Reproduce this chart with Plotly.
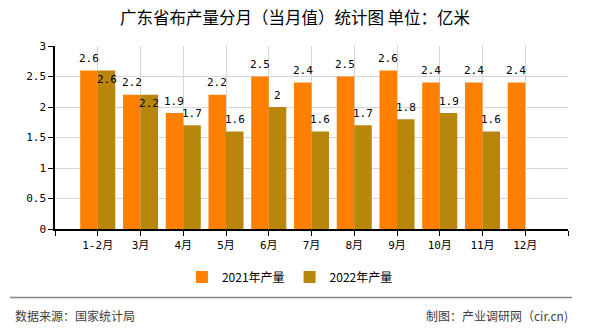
import plotly.graph_objects as go

categories = ["1-2月", "3月", "4月", "5月", "6月", "7月", "8月", "9月", "10月", "11月", "12月"]
values_2021 = [2.6, 2.2, 1.9, 2.2, 2.5, 2.4, 2.5, 2.6, 2.4, 2.4, 2.4]
values_2022 = [2.6, 2.2, 1.7, 1.6, 2.0, 1.6, 1.7, 1.8, 1.9, 1.6, None]
series_names = ["2021年产量", "2022年产量"]
y_ticks = [0, 0.5, 1, 1.5, 2, 2.5, 3]

COLOR_2021 = "#FF8000"
COLOR_2022 = "#B8860B"
BARGAP = 0.18
MONO = "DejaVu Sans Mono, Noto Sans CJK SC"
CJK = "Noto Sans CJK SC"

xs = list(range(len(categories)))

fig = go.Figure()
fig.add_trace(go.Bar(x=xs, y=values_2021, name=series_names[0],
                     marker=dict(color=COLOR_2021, line=dict(width=0))))
fig.add_trace(go.Bar(x=xs, y=values_2022, name=series_names[1],
                     marker=dict(color=COLOR_2022, line=dict(width=0))))

# data labels
off = (1 - BARGAP) / 4
annotations = []
for i, (a, b) in enumerate(zip(values_2021, values_2022)):
    if a is not None:
        annotations.append(dict(x=i - off, y=a, xref="x", yref="y", text=str(a),
                                showarrow=False, yanchor="middle", yshift=12,
                                font=dict(family=MONO, size=11, color="#000")))
    if b is not None:
        clash = a is not None and abs(a - b) < 0.05
        annotations.append(dict(x=i + off, y=b, xref="x", yref="y",
                                text=("%g" % b),
                                showarrow=False, yanchor="middle",
                                yshift=-9 if clash else 12,
                                font=dict(family=MONO, size=11, color="#000")))

# footer
annotations.append(dict(x=-0.082, y=-0.475, xref="paper", yref="paper",
                        text="数据来源：国家统计局", showarrow=False,
                        xanchor="left", yanchor="middle",
                        font=dict(family=CJK, size=12, color="#404040")))
annotations.append(dict(x=1.004, y=-0.475, xref="paper", yref="paper",
                        text="制图：产业调研网（cir.cn)", showarrow=False,
                        xanchor="right", yanchor="middle",
                        font=dict(family=CJK, size=12, color="#404040")))

fig.update_layout(
    width=590, height=330,
    margin=dict(l=55, r=22, t=46, b=101),
    paper_bgcolor="white", plot_bgcolor="white",
    barmode="group", bargap=BARGAP, bargroupgap=0,
    title=dict(text="广东省布产量分月（当月值）统计图 单位：亿米",
               x=0.5, xref="container", xanchor="center",
               y=1 - 18 / 330, yref="container", yanchor="middle",
               font=dict(family=CJK, size=16.5, color="#000")),
    showlegend=True,
    legend=dict(orientation="h", x=0.458, xanchor="center",
                y=-0.262, yanchor="middle",
                font=dict(family=CJK, size=12, color="#000"),
                bgcolor="rgba(0,0,0,0)", itemwidth=30),
    annotations=annotations,
    shapes=[dict(type="line", xref="paper", yref="paper",
                 x0=-0.0877, x1=1.0078, y0=-0.374, y1=-0.374,
                 line=dict(color="#888888", width=1.5))],
)

fig.update_xaxes(
    range=[-1, len(categories)],
    tickmode="array",
    tickvals=[-1] + xs + [len(categories)],
    ticktext=[""] + categories + [""],
    showgrid=True, gridcolor="#d6d6d6", gridwidth=1,
    showline=True, linecolor="#000", linewidth=1.5,
    ticks="outside", ticklen=5, tickcolor="#000",
    tickfont=dict(family=MONO, size=11, color="#000"),
    zeroline=False,
)
fig.update_yaxes(
    range=[0, 3],
    tickmode="array", tickvals=y_ticks,
    ticktext=["%g" % v for v in y_ticks],
    showgrid=True, gridcolor="#d6d6d6", gridwidth=1,
    showline=True, linecolor="#000", linewidth=1.5,
    ticks="outside", ticklen=5, tickcolor="#000",
    tickfont=dict(family=MONO, size=11, color="#000"),
    zeroline=False,
)

fig.write_html("out.html")
